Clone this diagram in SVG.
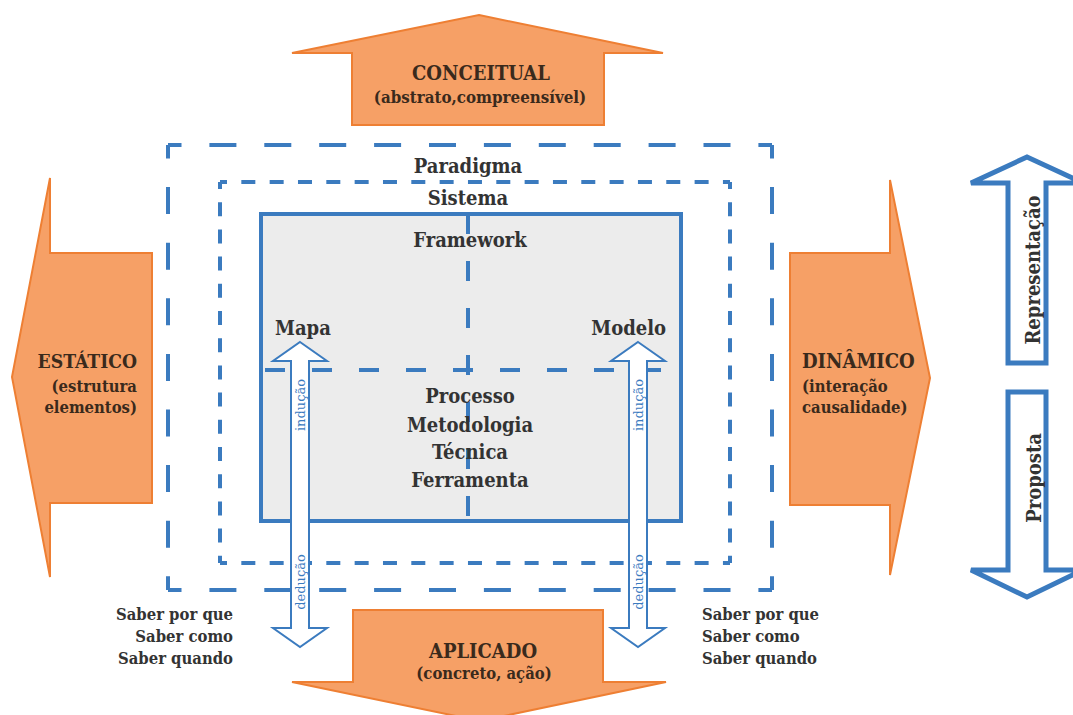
<svg xmlns="http://www.w3.org/2000/svg" width="1073" height="715" viewBox="0 0 1073 715">
  <style>
    text { font-family: "DejaVu Serif", "Liberation Serif", serif; font-weight: bold; font-stretch: semi-condensed; }
    .lbl { fill: #333333; font-size: 20px; }
    .olbl { fill: #3a2a1c; }
    .sml { fill: #333333; font-size: 16.5px; }
    .tiny { fill: #3b7bbf; font-size: 13px; font-weight: normal; font-stretch: normal; }
    .orange { fill: #f6a066; stroke: #ee7f33; stroke-width: 2; stroke-linejoin: miter; }
    .blue-line { fill: none; stroke: #3b7bbf; stroke-width: 4; }
    .dbl { fill: #ffffff; stroke: #3b7bbf; stroke-width: 2; stroke-linejoin: miter; }
    .fat { fill: #ffffff; stroke: #3b7bbf; stroke-width: 5; stroke-linejoin: miter; }
  </style>

  <rect width="1073" height="715" fill="#ffffff"/>

  <!-- nested layers -->
  <g id="paradigma">
    <path class="blue-line" stroke-dasharray="27 27.9" stroke-dashoffset="13.5" d="M168,145 H772"/>
    <path class="blue-line" stroke-dasharray="27 28.6" stroke-dashoffset="13.5" d="M168,145 V590"/>
    <path class="blue-line" stroke-dasharray="27 28.6" stroke-dashoffset="13.5" d="M772,145 V590"/>
    <path class="blue-line" stroke-dasharray="27 27.9" stroke-dashoffset="13.5" d="M168,590 H772"/>
    <text class="lbl" x="468" y="173" text-anchor="middle">Paradigma</text>
  </g>

  <g id="sistema">
    <path class="blue-line" stroke-dasharray="14 14.33" stroke-dashoffset="7" d="M220,182 H730"/>
    <path class="blue-line" stroke-dasharray="14 13.2" stroke-dashoffset="7" d="M220,182 V563"/>
    <path class="blue-line" stroke-dasharray="14 13.2" stroke-dashoffset="7" d="M730,182 V563"/>
    <path class="blue-line" stroke-dasharray="14 14.33" stroke-dashoffset="7" d="M220,563 H730"/>
    <text class="lbl" x="468" y="205" text-anchor="middle">Sistema</text>
  </g>

  <g id="framework">
    <rect x="261" y="214" width="420" height="307" fill="#ececec" stroke="#3b7bbf" stroke-width="4"/>
    <path class="blue-line" stroke-dasharray="20 27" stroke-dashoffset="-4" d="M261,370 H681"/>
    <path class="blue-line" stroke-dasharray="20 27" stroke-dashoffset="0" d="M468,214 V521"/>
    <text class="lbl" x="470" y="247" text-anchor="middle">Framework</text>
  </g>

  <g id="processo">
    <text class="lbl" x="470" y="403" text-anchor="middle">Processo</text>
    <text class="lbl" x="470" y="432" text-anchor="middle">Metodologia</text>
    <text class="lbl" x="470" y="459" text-anchor="middle">Técnica</text>
    <text class="lbl" x="470" y="487" text-anchor="middle">Ferramenta</text>
  </g>

  <!-- orange direction arrows -->
  <g id="conceitual">
    <polygon class="orange" points="479,15 663,53 604,53 604,125 352,125 352,53 292,53"/>
    <text class="olbl" x="481" y="80" text-anchor="middle" font-size="20">CONCEITUAL</text>
    <text class="olbl" x="480" y="103" text-anchor="middle" font-size="16.8">(abstrato,compreensível)</text>
  </g>

  <g id="aplicado">
    <polygon class="orange" points="353,610 603,610 603,682 666,682 480,721 292,682 353,682"/>
    <text class="olbl" x="483" y="658" text-anchor="middle" font-size="20">APLICADO</text>
    <text class="olbl" x="484" y="679" text-anchor="middle" font-size="16.5">(concreto, ação)</text>
  </g>

  <g id="estatico">
    <polygon class="orange" points="12,377 50,178 50,253 152,253 152,503 50,503 50,577"/>
    <text class="olbl" x="137" y="368" text-anchor="end" font-size="19.2">ESTÁTICO</text>
    <text class="olbl" x="137" y="392" text-anchor="end" font-size="16.5">(estrutura</text>
    <text class="olbl" x="137" y="413" text-anchor="end" font-size="16.5">elementos)</text>
  </g>

  <g id="dinamico">
    <polygon class="orange" points="930,378 890,575 890,505 790,505 790,253 890,253 890,180"/>
    <text class="olbl" x="802" y="368" font-size="20">DINÂMICO</text>
    <text class="olbl" x="802" y="392" font-size="16.5">(interação</text>
    <text class="olbl" x="802" y="413" font-size="16.5">causalidade)</text>
  </g>

  <!-- map / model corners -->
  <g id="mapa">
    <text class="lbl" x="275" y="335">Mapa</text>
  </g>
  <g id="modelo">
    <text class="lbl" x="666" y="335" text-anchor="end">Modelo</text>
  </g>

  <!-- induction / deduction connectors -->
  <g id="connectors">
    <polygon class="dbl" points="300,342 327,361 309,361 309,628 327,628 300,647 273,628 291,628 291,361 273,361"/>
    <polygon class="dbl" points="638,342 665,361 647,361 647,628 665,628 638,647 611,628 629,628 629,361 611,361"/>
    <text class="tiny" transform="translate(305,405) rotate(-90)" text-anchor="middle">indução</text>
    <text class="tiny" transform="translate(305,582) rotate(-90)" text-anchor="middle">dedução</text>
    <text class="tiny" transform="translate(643,405) rotate(-90)" text-anchor="middle">indução</text>
    <text class="tiny" transform="translate(643,582) rotate(-90)" text-anchor="middle">dedução</text>
  </g>

  <g id="saber-esquerda">
    <text class="sml" x="233" y="620" text-anchor="end">Saber por que</text>
    <text class="sml" x="233" y="642" text-anchor="end">Saber como</text>
    <text class="sml" x="233" y="664" text-anchor="end">Saber quando</text>
  </g>
  <g id="saber-direita">
    <text class="sml" x="702" y="620">Saber por que</text>
    <text class="sml" x="702" y="642">Saber como</text>
    <text class="sml" x="702" y="664">Saber quando</text>
  </g>

  <!-- representation / proposal axis -->
  <g id="representacao">
    <polygon class="fat" points="1027,157 1083,183 1046,183 1046,363 1008,363 1008,183 971,183"/>
    <text class="lbl" transform="translate(1040,270) rotate(-90)" text-anchor="middle">Representação</text>
  </g>
  <g id="proposta">
    <polygon class="fat" points="1008,392 1046,392 1046,570 1083,570 1027,597 971,570 1008,570"/>
    <text class="lbl" font-size="22.5" transform="translate(1041,478) rotate(-90)" text-anchor="middle">Proposta</text>
  </g>
</svg>
